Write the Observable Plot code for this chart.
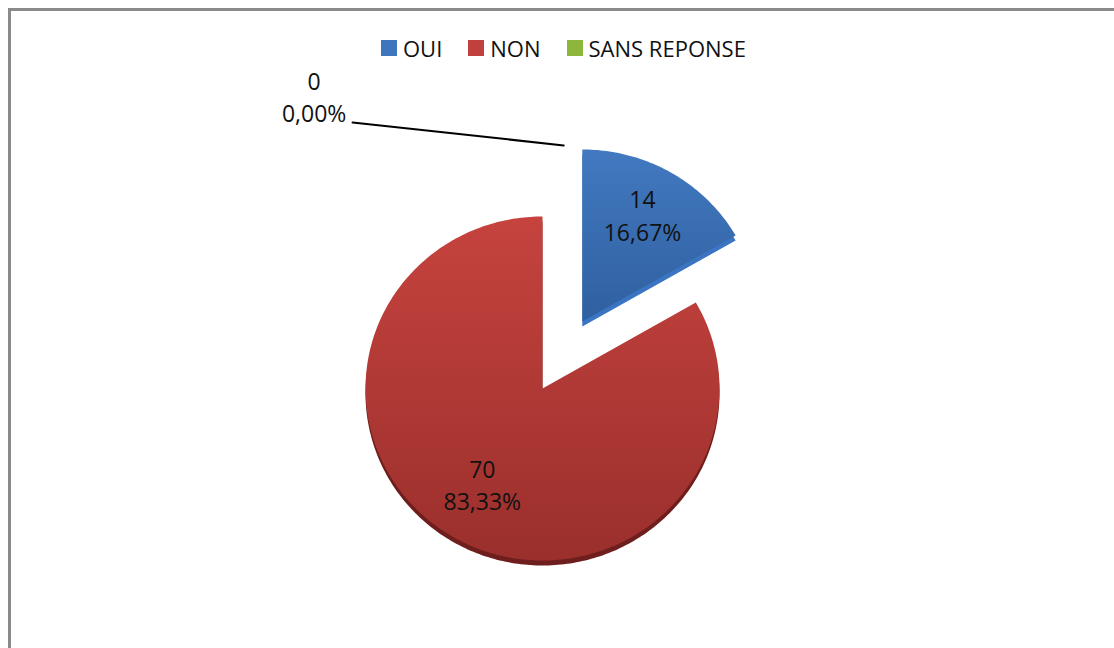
<!DOCTYPE html>
<html>
<head>
<meta charset="utf-8">
<script src="https://cdn.jsdelivr.net/npm/d3@7"></script>
<script src="https://cdn.jsdelivr.net/npm/@observablehq/plot@0.6"></script>
<style>
  html, body { margin: 0; padding: 0; background: #fff; }
  #wrap { position: relative; width: 1114px; height: 648px; overflow: hidden; font-family: "Open Sans", sans-serif; }
  #frame { position: absolute; left: 8px; top: 8px; width: 1200px; height: 700px; border: 3px solid #8a8a8a; box-sizing: border-box; }
  #chart { position: absolute; left: 0; top: 0; }
  #legend { position: absolute; left: 381px; top: 33px; display: flex; align-items: center; font-size: 22px; color: #111; }
  #legend .item { display: flex; align-items: center; margin-right: 26px; }
  #legend .sw { width: 16px; height: 16px; margin-right: 6px; }
</style>
</head>
<body>
<div id="wrap">
  <div id="frame"></div>
  <div id="chart"></div>
  <div id="legend"></div>
</div>
<script>
// ---- data ----
const categories = ["OUI", "NON", "SANS REPONSE"];
const counts = [14, 70, 0];
const topColors = ["#4279c0", "#c6433e", "#9bc255"];
const bottomColors = ["#2f60a0", "#9a2f2c", "#78a032"];
const sideColors = ["#3a74c2", "#6e1e1c", "#5e7f24"];
const legendColors = ["#3f75bd", "#c0403d", "#8cb63c"];
const explode = [0.45, 0, 0];

// ---- layout constants ----
const W = 1114, H = 648;
const cx = 542, cy = 388, ux = 177, uy = 172;
const depth = 5 / uy;
const labelRadius = 0.68;

const total = d3.sum(counts);
const pct = v => (v / total * 100).toFixed(2).replace(".", ",") + "%";
const arcs = d3.pie().sort(null).startAngle(0).endAngle(2 * Math.PI)(counts);

function slicePoints(a0, a1, ox, oy, dy) {
  const pts = [{x: ox, y: oy + dy}];
  const n = Math.max(2, Math.ceil((a1 - a0) / (Math.PI / 180)));
  for (let k = 0; k <= n; k++) {
    const a = a0 + (a1 - a0) * k / n;
    pts.push({x: ox + Math.sin(a), y: oy + Math.cos(a) + dy});
  }
  pts.push({x: ox, y: oy + dy});
  return pts;
}

const marks = [];
const labelRows = [];
arcs.forEach((arc, i) => {
  const mid = (arc.startAngle + arc.endAngle) / 2;
  const ox = explode[i] * Math.sin(mid), oy = explode[i] * Math.cos(mid);
  if (arc.endAngle - arc.startAngle > 1e-6) {
    marks.push(Plot.line(slicePoints(arc.startAngle, arc.endAngle, ox, oy, -depth), {x: "x", y: "y", fill: sideColors[i], stroke: "none"}));
    labelRows.push({x: ox + labelRadius * Math.sin(mid), y: oy + labelRadius * Math.cos(mid), text: counts[i] + "\n" + pct(counts[i])});
  }
});
arcs.forEach((arc, i) => {
  const mid = (arc.startAngle + arc.endAngle) / 2;
  const ox = explode[i] * Math.sin(mid), oy = explode[i] * Math.cos(mid);
  if (arc.endAngle - arc.startAngle > 1e-6) {
    marks.push(Plot.line(slicePoints(arc.startAngle, arc.endAngle, ox, oy, 0), {x: "x", y: "y", fill: topColors[i], stroke: "none"}));
  }
});

// zero-value slice label placed outside with a leader line
const zeroIdx = counts.findIndex(v => v === 0);
const zeroLeader = [{x: 0.12, y: 1.413}, {x: -1.073, y: 1.547}];
const zeroLabel = [{x: -1.29, y: 1.70, text: counts[zeroIdx] + "\n" + pct(counts[zeroIdx])}];

marks.push(Plot.line(zeroLeader, {x: "x", y: "y", stroke: "#000", strokeWidth: 2}));
marks.push(Plot.text(labelRows, {x: "x", y: "y", text: "text", fontSize: 23, lineHeight: 1.4, dy: -6, fill: "#111"}));
marks.push(Plot.text(zeroLabel, {x: "x", y: "y", text: "text", fontSize: 23, lineHeight: 1.4, fill: "#111"}));

const svg = Plot.plot({
  width: W, height: H,
  marginTop: 0, marginBottom: 0, marginLeft: 0, marginRight: 0,
  x: {domain: [-cx / ux, (W - cx) / ux], axis: null},
  y: {domain: [-(H - cy) / uy, cy / uy], axis: null},
  style: {fontFamily: "Open Sans, sans-serif", background: "transparent", overflow: "visible"},
  marks
});

// gradients for top faces
const sel = d3.select(svg);
const defs = sel.insert("defs", ":first-child");
categories.forEach((c, i) => {
  const g = defs.append("linearGradient").attr("id", "grad" + i)
    .attr("x1", 0).attr("y1", 0).attr("x2", 0).attr("y2", 1);
  g.append("stop").attr("offset", "0%").attr("stop-color", topColors[i]);
  g.append("stop").attr("offset", "100%").attr("stop-color", bottomColors[i]);
  sel.selectAll(`[fill="${topColors[i]}"]`).attr("fill", `url(#grad${i})`);
});

document.getElementById("chart").appendChild(svg);

// legend
const legend = d3.select("#legend");
categories.forEach((c, i) => {
  const it = legend.append("div").attr("class", "item");
  it.append("div").attr("class", "sw").style("background", legendColors[i]);
  it.append("span").text(c);
});
</script>
</body>
</html>
